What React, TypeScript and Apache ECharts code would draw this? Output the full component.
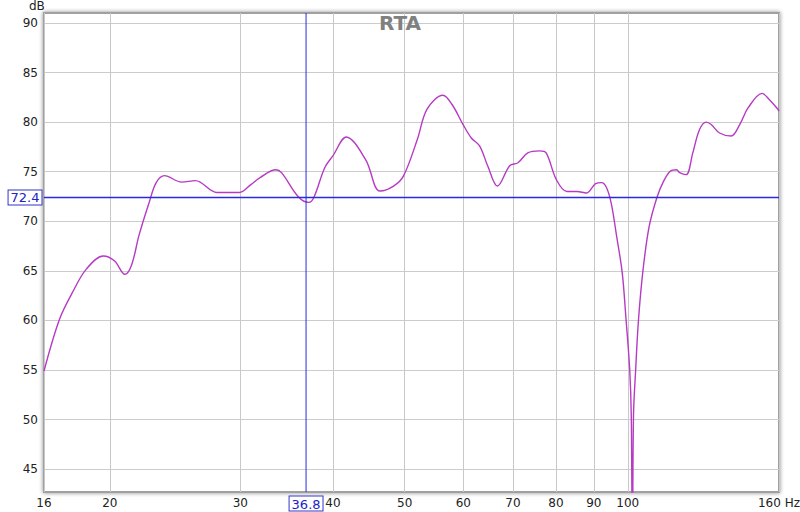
import React, { useEffect, useRef } from "react";
import * as echarts from "echarts";

// Frequency response (RTA)
const freqHz = [
  16.3, 17.1, 17.8, 18.6, 19.6, 20.3, 20.95, 21.4, 21.9, 22.6, 23.1, 23.7, 25.0, 26.1, 27.9, 29.9,
  31.0, 31.9, 33.5, 34.1, 35.9, 37.1, 37.7, 39.0, 40.0, 41.7, 44.3, 46.3, 48.3, 49.8, 52.0,
  53.6, 56.3, 57.9, 59.9, 61.5, 63.1, 64.7, 66.7, 69.3, 71.1, 73.3, 76.0, 77.6, 80.1, 82.8,
  85.4, 87.9, 90.5, 92.2, 93.6, 95.0, 96.6, 98.3, 99.4, 100.6, 101.1, 101.45, 101.8, 102.5,
  103.4, 104.9, 106.9, 109.6, 111.8, 114.1, 116.4, 117.5, 119.9, 122.4, 125.0, 127.6, 129.6,
  133.0, 137.9, 141.6, 145.4, 151.8, 155.1, 159.4, 160,
];
const levelDb = [
  54.9, 60.1, 62.8, 65.2, 66.5, 66.0, 64.65, 65.6, 68.6, 71.9, 73.9, 74.6, 73.95, 74.1, 72.9, 72.9,
  73.7, 74.4, 75.2, 74.9, 72.5, 71.9, 72.4, 75.4, 76.6, 78.5, 76.2, 73.05, 73.55, 74.55, 78.25,
  81.3, 82.7, 81.8, 79.8, 78.4, 77.6, 75.6, 73.55, 75.6, 75.9, 76.9, 77.1, 76.9, 74.2, 73.0,
  73.0, 72.85, 73.8, 73.9, 73.4, 71.8, 68.5, 64.8, 60.4, 55.1, 50.4, 36.0, 50.4, 55.1,
  60.1, 65.2, 69.5, 72.5, 74.05, 75.05, 75.2, 74.9, 74.7, 76.9, 79.25, 80.0, 79.75,
  78.9, 78.6, 79.75, 81.45, 82.9, 82.3, 81.3, 81.1,
];
const xTickHz = [16.3, 20, 30, 40, 50, 60, 70, 80, 90, 100, 160];
const yTickDb = [45, 50, 55, 60, 65, 70, 75, 80, 85, 90];
const cursorHz = 36.8;
const cursorDb = 72.4;
const xMinHz = 16.3;
const xMaxHz = 160;
const yMinDb = 42.7;
const yMaxDb = 91;

const FONT = "DejaVu Sans";
const CURSOR = "#2a2ae0";

export default function App() {
  const ref = useRef<HTMLDivElement>(null);
  useEffect(() => {
    if (!ref.current) return;
    const chart = echarts.init(ref.current, undefined, { renderer: "svg" });
    const lg = (v: number) => Math.log10(v);
    const data = freqHz.map((f, i) => [lg(f), levelDb[i]]);
    const cursorLabel = {
      show: true,
      color: "#2222c8",
      fontSize: 13,
      fontFamily: FONT,
      backgroundColor: "#ffffff",
      borderColor: "#3434c8",
      borderWidth: 1,
      padding: [1, 2, 0, 2],
      opacity: 1,
    };
    const cursorSeries = (pts: any[], width: number) => ({
      type: "line",
      data: pts,
      symbol: "circle",
      symbolSize: 1,
      showSymbol: true,
      silent: true,
      clip: false,
      z: 3,
      itemStyle: { color: "rgba(0,0,0,0)", borderWidth: 0 },
      lineStyle: { color: CURSOR, width },
      emphasis: { disabled: true },
    });
    chart.setOption({
      animation: false,
      backgroundColor: "#ffffff",
      title: {
        text: "RTA",
        left: "center",
        top: 8,
        textStyle: { fontSize: 20, fontWeight: "bold", color: "#808080", fontFamily: FONT },
      },
      graphic: [
        {
          type: "text",
          left: 29,
          top: 0,
          style: { text: "dB", fontSize: 12, fontFamily: FONT, fill: "#222" },
        },
      ],
      grid: {
        left: 44,
        right: 21,
        top: 13,
        bottom: 20,
        show: true,
        backgroundColor: "#ffffff",
        borderColor: "#a0a0a0",
        borderWidth: 2,
        shadowColor: "rgba(0,0,0,0.45)",
        shadowBlur: 4,
        outerBoundsMode: "none",
      },
      xAxis: {
        type: "value",
        min: lg(xMinHz),
        max: lg(xMaxHz),
        axisLine: { show: false },
        axisTick: { show: false, customValues: xTickHz.map(lg) },
        axisLabel: {
          customValues: xTickHz.map(lg),
          margin: 5,
          fontSize: 12,
          fontFamily: FONT,
          color: "#222",
          formatter: (v: number) => {
            const f = Math.round(Math.pow(10, v));
            return f >= 160 ? "160 Hz" : String(f);
          },
        },
        splitLine: { show: true, lineStyle: { color: "#c8c8c8", width: 1 } },
      },
      yAxis: {
        type: "value",
        min: yMinDb,
        max: yMaxDb,
        axisLine: { show: false },
        axisTick: { show: false, customValues: yTickDb },
        axisLabel: {
          customValues: yTickDb,
          margin: 6,
          fontSize: 12,
          fontFamily: FONT,
          color: "#222",
        },
        splitLine: { show: true, lineStyle: { color: "#cccccc", width: 1 } },
      },
      series: [
        {
          type: "line",
          data,
          smooth: 0.35,
          showSymbol: false,
          clip: true,
          z: 2,
          lineStyle: { color: "#b63ac4", width: 1.4 },
        },
        cursorSeries(
          [
            {
              value: [lg(cursorHz), yMinDb],
              label: { ...cursorLabel, position: "bottom", distance: 4, formatter: String(cursorHz) },
            },
            { value: [lg(cursorHz), yMaxDb] },
          ],
          1
        ),
        cursorSeries(
          [
            {
              value: [lg(xMinHz), cursorDb],
              label: { ...cursorLabel, position: "left", distance: 2, formatter: String(cursorDb) },
            },
            { value: [lg(xMaxHz), cursorDb] },
          ],
          1.4
        ),
      ],
    });
    return () => chart.dispose();
  }, []);
  return (
    <div
      ref={ref}
      style={{ position: "fixed", left: 0, top: 0, width: 800, height: 512 }}
    />
  );
}
